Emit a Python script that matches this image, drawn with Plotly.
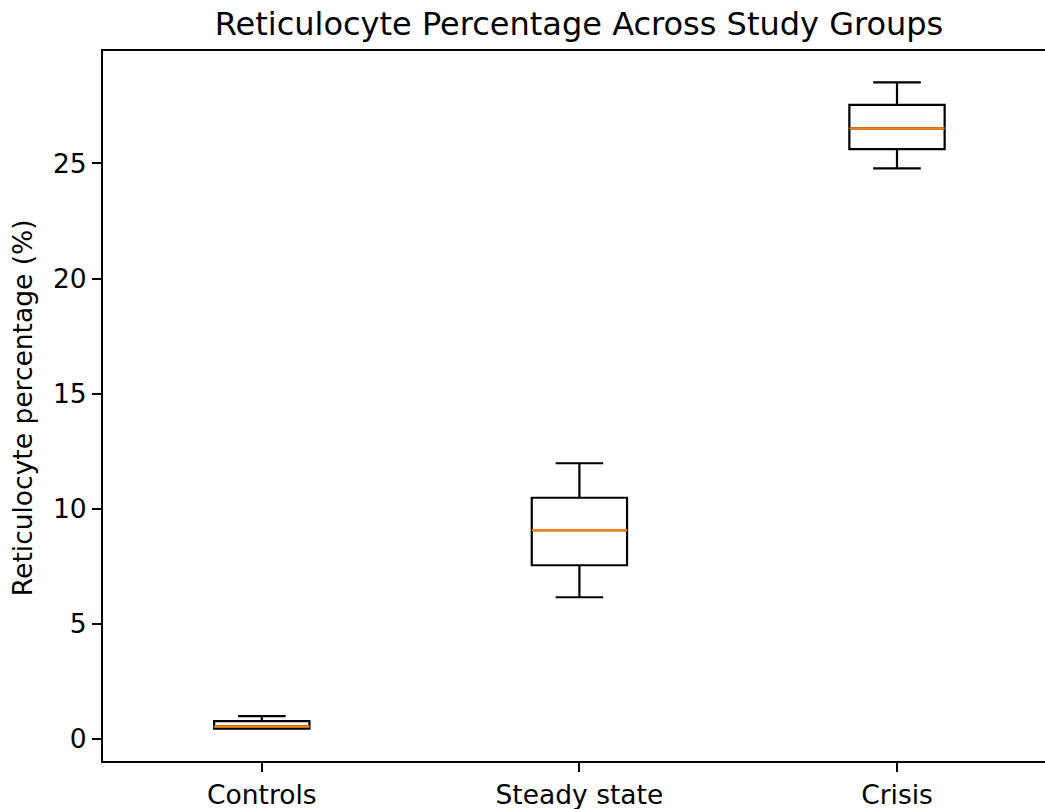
import plotly.graph_objects as go

categories = ["Controls", "Steady state", "Crisis"]
positions = [1, 2, 3]
lower_whisker = [0.45, 6.16, 24.78]
q1_values = [0.45, 7.55, 25.62]
median_values = [0.55, 9.07, 26.52]
q3_values = [0.78, 10.48, 27.54]
upper_whisker = [1.0, 11.98, 28.52]
y_ticks = [0, 5, 10, 15, 20, 25]

box_width = 0.3
font_family = "DejaVu Sans"
tick_size = 26.5
title_size = 32

W, H = 1045, 809
plot_left, plot_top, plot_bottom = 103, 51, 760.7

fig = go.Figure()
fig.add_trace(go.Box(
    x=positions,
    q1=q1_values,
    median=median_values,
    q3=q3_values,
    lowerfence=lower_whisker,
    upperfence=upper_whisker,
    width=box_width,
    whiskerwidth=0.5,
    fillcolor="rgba(255,255,255,0)",
    line=dict(color="black", width=2.2),
    boxpoints=False,
    hoverinfo="skip",
    showlegend=False,
))

mx, my = [], []
for p, m in zip(positions, median_values):
    mx += [p - box_width / 2, p + box_width / 2, None]
    my += [m, m, None]
fig.add_trace(go.Scatter(
    x=mx, y=my, mode="lines",
    line=dict(color="#ff7f0e", width=2.4),
    hoverinfo="skip", showlegend=False,
))

fig.update_layout(
    width=W, height=H,
    margin=dict(l=plot_left, r=0, t=plot_top, b=H - plot_bottom, pad=0),
    plot_bgcolor="white", paper_bgcolor="white",
    font=dict(family=font_family, size=tick_size, color="black"),
    hovermode=False,
    title=dict(
        text="Reticulocyte Percentage Across Study Groups",
        font=dict(family=font_family, size=title_size, color="black"),
        x=579 / W, xanchor="center",
        y=1 - 24 / H, yanchor="middle", yref="container",
    ),
    xaxis=dict(
        range=[0.5, 3.466],
        tickmode="array", tickvals=positions, ticktext=categories,
        showline=True, linecolor="black", linewidth=2, mirror=True,
        ticks="outside", ticklen=9, tickwidth=2, tickcolor="black",
        showgrid=False, zeroline=False,
        tickfont=dict(family=font_family, size=tick_size, color="black"),
    ),
    yaxis=dict(
        range=[-0.95, 29.88],
        tickmode="array", tickvals=y_ticks,
        showline=True, linecolor="black", linewidth=2, mirror=False,
        ticks="outside", ticklen=9, tickwidth=2, tickcolor="black",
        showgrid=False, zeroline=False,
        tickfont=dict(family=font_family, size=tick_size, color="black"),
    ),
    annotations=[dict(
        text="Reticulocyte percentage (%)",
        xref="paper", yref="paper",
        x=(22 - 103) / 942, y=(760.7 - 408) / (760.7 - 51),
        xanchor="center", yanchor="middle",
        textangle=-90, showarrow=False,
        font=dict(family=font_family, size=tick_size, color="black"),
    )],
)

fig.write_html(
    "out.html",
    config={"displayModeBar": False, "staticPlot": True},
    post_script=(
        "document.body.style.margin='0';"
        "document.documentElement.style.overflow='hidden';"
        "document.body.style.overflow='hidden';"
    ),
)
